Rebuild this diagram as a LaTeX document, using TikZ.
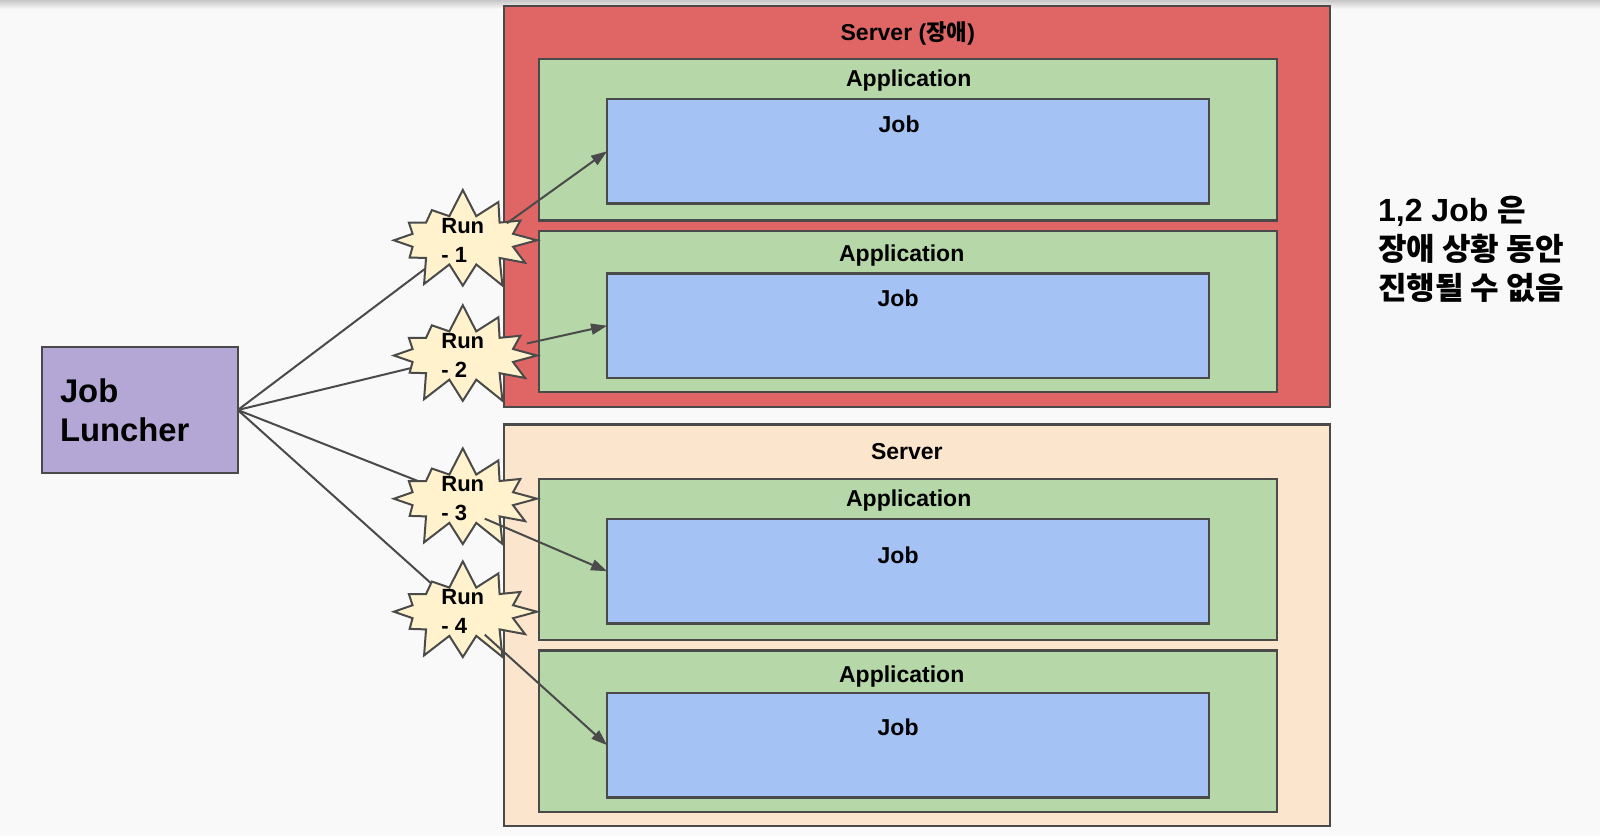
\documentclass[tikz,border=0pt]{standalone}
\usepackage{fontspec}
\setmainfont{Liberation Sans}
\newfontfamily\krfont[Scale=0.97]{Noto Sans CJK KR}
\usepackage{xcolor}
\definecolor{srv-red}{HTML}{E06666}
\definecolor{srv-peach}{HTML}{FCE5CD}
\definecolor{app-green}{HTML}{B6D7A8}
\definecolor{job-blue}{HTML}{A4C2F4}
\definecolor{launch-purple}{HTML}{B4A7D6}
\definecolor{run-yellow}{HTML}{FFF2CC}
\definecolor{edge-gray}{HTML}{4A4A4A}
\definecolor{page-gray}{HTML}{F9F9F9}
\usetikzlibrary{calc,shapes.symbols,arrows.meta}
\pgfdeclarelayer{bg}
\pgfdeclarelayer{wires}
\pgfsetlayers{bg,wires,main}
\newcommand{\kr}[1]{{\krfont\bfseries #1}}

\begin{document}
\begin{tikzpicture}[x=0.5pt,y=-0.5pt,>={Triangle[length=8pt,width=5.5pt]},
	box/.style={draw=edge-gray,line width=1.1pt,inner sep=0pt,outer sep=0pt,anchor=north west},
	server/.style={box,minimum width=412.8pt,minimum height=200.6pt},
	app/.style={box,fill=app-green,minimum width=368.9pt,minimum height=80.6pt},
	job/.style={box,fill=job-blue,minimum width=301pt,minimum height=52.2pt},
	burst/.style={starburst,starburst points=12,starburst point height=14pt,random starburst=7,
		minimum width=80pt,minimum height=53pt,inner sep=0pt,fill=run-yellow,draw=edge-gray,line width=1pt},
	runtext/.style={align=left,inner sep=0pt,font=\bfseries\fontsize{11}{14.5}\selectfont},
	title/.style={inner sep=0pt,anchor=base,font=\bfseries\fontsize{11.5}{13}\selectfont},
	wire/.style={draw=edge-gray,line width=1pt}]
	
	\begin{pgfonlayer}{bg}
		\fill[page-gray] (0,0) rectangle (1600,836);
		\shade[top color=black!22,bottom color=page-gray] (0,0) rectangle (1600,9);
	\end{pgfonlayer}
	\useasboundingbox (0,0) rectangle (1600,836);
	
	\node[server,fill=srv-red] (srvA) at (504,6) {};
	\node[server,fill=srv-peach] (srvB) at (504,424.5) {};
	
	\node[app] (appA1) at (538.8,59.2) {};
	\node[app] (appA2) at (538.8,230.6) {};
	\node[app] (appB1) at (538.8,478.6) {};
	\node[app] (appB2) at (538.8,650.5) {};
	
	\node[job] (jobA1) at (607.1,99) {};
	\node[job] (jobA2) at (607.1,273.5) {};
	\node[job] (jobB1) at (607.1,519) {};
	\node[job] (jobB2) at (607.1,693) {};
	
	\path
		(srvA.north)++(-9,34)    node[title] (srvA-t)  {Server (\kr{장애})}
		(appA1.north)++(1,26.8)  node[title] (appA1-t) {Application}
		(jobA1.north)++(-9,33.3) node[title] (jobA1-t) {Job}
		(appA2.north)++(-6,31.1) node[title] (appA2-t) {Application}
		(jobA2.north)++(-10,33.2) node[title] (jobA2-t) {Job}
		(srvB.north)++(-10,34.8) node[title] (srvB-t)  {Server}
		(appB1.north)++(1,27.4)  node[title] (appB1-t) {Application}
		(jobB1.north)++(-10,44.3) node[title] (jobB1-t) {Job}
		(appB2.north)++(-6,31.8) node[title] (appB2-t) {Application}
		(jobB2.north)++(-10,42.7) node[title] (jobB2-t) {Job};
	
	\node[box,fill=launch-purple,minimum width=98pt,minimum height=62.8pt,
		text width=79.8pt,inner xsep=9.1pt,align=left,
		font=\bfseries\fontsize{16.4}{19.5}\selectfont] (luncher) at (41.8,347.2) {Job\\Luncher};
	
	\node[burst] (run1) at (462.8,240.3) {};
	\node[burst] (run2) at (462.8,355.5) {};
	\node[burst] (run3) at (462.8,498.7) {};
	\node[burst] (run4) at (462.8,611.7) {};
	\node[runtext] (run1-t) at (run1.center) {Run\\- 1};
	\node[runtext] (run2-t) at (run2.center) {Run\\- 2};
	\node[runtext] (run3-t) at (run3.center) {Run\\- 3};
	\node[runtext] (run4-t) at (run4.center) {Run\\- 4};
	
	\begin{pgfonlayer}{wires}
		\foreach \r in {run1,run2,run3,run4}
			\draw[wire] (luncher.east) -- (\r.center);
	\end{pgfonlayer}
	
	\draw[wire,->] ($(run1.center)+(44,-17)$) -- (jobA1.west);
	\draw[wire,->] ($(run2.center)+(64,-12)$) -- (jobA2.west);
	\draw[wire,->] ($(run3.center)+(22,20)$) -- (jobB1.west);
	\draw[wire,->] ($(run4.center)+(22,23)$) -- (jobB2.west);
	
	\node[anchor=base west,align=left,inner sep=0pt,
		font=\bfseries\fontsize{16}{19.5}\selectfont] (note) at (1377.7,299.7)
		{1,2 Job \kr{은}\\\kr{장애 상황 동안}\\\kr{진행될 수 없음}};
\end{tikzpicture}
\end{document}
